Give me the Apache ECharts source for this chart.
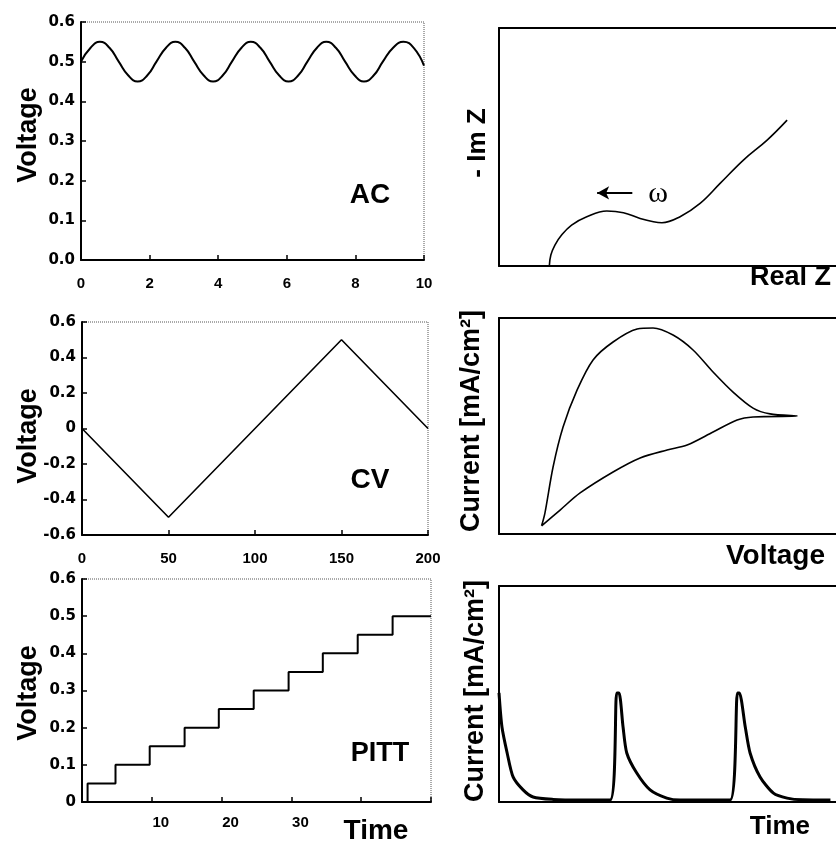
<!DOCTYPE html>
<html>
<head>
<meta charset="utf-8">
<script src="https://cdn.jsdelivr.net/npm/echarts@6/dist/echarts.min.js"></script>
<style>
html,body{margin:0;padding:0;background:#fff;}
#c{width:836px;height:842px;}
</style>
</head>
<body>
<div id="c"></div>
<script>
// ---- AC panel (voltage vs time) ----
var acTime    = [0, 0.28, 0.55, 0.83, 1.1, 1.38, 1.65, 1.93, 2.2, 2.48, 2.75, 3.03, 3.3, 3.58, 3.85, 4.13, 4.4, 4.68, 4.95, 5.23, 5.5, 5.78, 6.05, 6.33, 6.6, 6.88, 7.15, 7.43, 7.7, 7.98, 8.25, 8.53, 8.8, 9.1, 9.4, 9.7, 10];
var acVoltage = [0.50, 0.535, 0.55, 0.535, 0.50, 0.465, 0.45, 0.465, 0.50, 0.535, 0.55, 0.535, 0.50, 0.465, 0.45, 0.465, 0.50, 0.535, 0.55, 0.535, 0.50, 0.465, 0.45, 0.465, 0.50, 0.535, 0.55, 0.535, 0.50, 0.465, 0.45, 0.465, 0.50, 0.535, 0.55, 0.535, 0.49];
var acXLabels = ['0', '2', '4', '6', '8', '10'];
var acYLabels = ['0.0', '0.1', '0.2', '0.3', '0.4', '0.5', '0.6'];

// ---- CV panel (voltage vs time) ----
var cvTime    = [0, 50, 150, 200];
var cvVoltage = [0, -0.5, 0.5, 0];
var cvXLabels = ['0', '50', '100', '150', '200'];
var cvYLabels = ['-0.6', '-0.4', '-0.2', '0', '0.2', '0.4', '0.6'];

// ---- PITT panel (voltage staircase vs time) ----
var pittTime    = [0, 0.8, 4.8, 9.7, 14.7, 19.6, 24.6, 29.6, 34.5, 39.5, 44.5, 50];
var pittVoltage = [0, 0.05, 0.10, 0.15, 0.20, 0.25, 0.30, 0.35, 0.40, 0.45, 0.50, 0.50];
var pittXLabels = ['', '10', '20', '30', '', ''];
var pittYLabels = ['0', '0.1', '0.2', '0.3', '0.4', '0.5', '0.6'];

// ---- Nyquist plot (arbitrary units) ----
var nyqReal = [13.6, 14.0, 15.1, 16.9, 19.6, 23.7, 29.1, 33.6, 38.1, 41.7, 44.0, 48.9, 54.3, 59.7, 66.0, 72.4, 77.8];
var nyqImag = [0.1, 4.6, 8.8, 13.0, 17.2, 20.7, 23.1, 22.4, 20.0, 18.6, 18.2, 20.7, 26.3, 34.7, 44.5, 52.9, 61.3];

// ---- Cyclic voltammogram (arbitrary units) ----
var cvcVoltage = [11.5, 12.4, 14.6, 17.3, 21.1, 25.4, 30.8, 37.3, 41.6, 47.0, 52.4, 57.8, 63.2, 68.6, 73.2, 80.5, 68.6, 64.3, 57.8, 50.8, 45.4, 38.1, 30.8, 21.9, 16.5, 11.5];
var cvcCurrent = [3.8, 9.7, 31.0, 49.5, 66.7, 80.6, 88.9, 94.9, 95.4, 92.1, 85.2, 75.0, 65.7, 58.3, 55.6, 54.6, 54.2, 52.8, 47.2, 41.2, 38.9, 35.2, 28.7, 19.0, 11.1, 3.8];

// ---- PITT current response (arbitrary units) ----
var pcTime    = [0, 0.8, 2.2, 3.8, 6.5, 9.2, 14.6, 22, 30, 31.8, 32.4, 33.5, 34.5, 37.2, 40.8, 45.3, 48.9, 55, 62.4, 64.4, 64.9, 66.5, 67.8, 70.5, 74.1, 77.8, 82, 89.5];
var pcCurrent = [50.5, 34.7, 22.7, 11.6, 5.6, 2.3, 1.2, 0.9, 0.9, 50.5, 50.5, 34.7, 22.7, 13.4, 5.6, 1.8, 0.9, 0.9, 0.9, 50.5, 50.5, 34.7, 22.7, 11.6, 4.1, 1.8, 1.0, 0.9];

// visible part of the right-hand panels (their right edge runs off the page)
var rightXMax = 91;

function zip(a, b) { return a.map(function (v, i) { return [v, b[i]]; }); }
function ext(a, b) { var o = {}; for (var k in a) o[k] = a[k]; for (var k2 in b) o[k2] = b[k2]; return o; }

var FONT = 'Liberation Sans, Arial, sans-serif';
var chart = echarts.init(document.getElementById('c'), null, {renderer: 'canvas'});

var leftGrid = {show: true, borderColor: '#555', borderWidth: 1, borderType: 'dotted', backgroundColor: 'transparent'};
var grids = [
  ext(leftGrid, {left: 81, top: 22, width: 343, height: 238}),
  ext(leftGrid, {left: 82, top: 322, width: 346, height: 213}),
  ext(leftGrid, {left: 82, top: 579, width: 349, height: 223}),
  {left: 499, top: 28, right: 0, height: 238},
  {left: 499, top: 318, right: 0, height: 216},
  {left: 499, top: 586, right: 0, height: 216}
];

var axLine = {show: true, onZero: false, lineStyle: {color: '#000', width: 2}};
var axTick = {show: true, inside: true, length: 5, lineStyle: {color: '#000', width: 1.5}};
var xLbl = {color: '#000', fontFamily: FONT, fontWeight: 'bold', fontSize: 15};
var yLbl = {color: '#000', fontFamily: 'DejaVu Sans, sans-serif', fontWeight: 'bold', fontSize: 15};

function leftX(gi, min, max, interval, labels, margin, extra) {
  var o = {type: 'value', gridIndex: gi, min: min, max: max, interval: interval,
    axisLine: axLine, axisTick: axTick, splitLine: {show: false},
    axisLabel: ext(xLbl, {margin: margin, formatter: function (v) { return labels[Math.round((v - min) / interval)]; }})};
  if (extra) o.axisLabel = ext(o.axisLabel, extra);
  return o;
}
function leftY(gi, min, max, interval, labels) {
  return {type: 'value', gridIndex: gi, min: min, max: max, interval: interval,
    axisLine: axLine, axisTick: axTick, splitLine: {show: false},
    axisLabel: ext(yLbl, {margin: 6, formatter: function (v) { return labels[Math.round((v - min) / interval)]; }})};
}
function frameAxis(gi, pos, max) {
  return {type: 'value', gridIndex: gi, position: pos, min: 0, max: max,
    axisLine: axLine, axisTick: {show: false}, axisLabel: {show: false}, splitLine: {show: false}};
}

var xAxes = [
  leftX(0, 0, 10, 2, acXLabels, 16),
  leftX(1, 0, 200, 50, cvXLabels, 16),
  leftX(2, 0, 50, 10, pittXLabels, 13, {padding: [0, 0, 0, 18]}),
  frameAxis(3, 'bottom', rightXMax), frameAxis(4, 'bottom', rightXMax), frameAxis(5, 'bottom', rightXMax),
  frameAxis(3, 'top', rightXMax), frameAxis(4, 'top', rightXMax), frameAxis(5, 'top', rightXMax)
];
var yAxes = [
  leftY(0, 0, 0.6, 0.1, acYLabels),
  leftY(1, -0.6, 0.6, 0.2, cvYLabels),
  leftY(2, 0, 0.6, 0.1, pittYLabels),
  frameAxis(3, 'left', 100), frameAxis(4, 'left', 100), frameAxis(5, 'left', 100)
];

function ln(w) { return {color: '#000', width: w}; }
var series = [
  {type: 'line', xAxisIndex: 0, yAxisIndex: 0, data: zip(acTime, acVoltage), smooth: true, showSymbol: false, lineStyle: ln(2), silent: true},
  {type: 'line', xAxisIndex: 1, yAxisIndex: 1, data: zip(cvTime, cvVoltage), showSymbol: false, lineStyle: ln(1.6), silent: true},
  {type: 'line', xAxisIndex: 2, yAxisIndex: 2, data: zip(pittTime, pittVoltage), step: 'end', showSymbol: false, lineStyle: ln(2), silent: true},
  {type: 'line', xAxisIndex: 3, yAxisIndex: 3, data: zip(nyqReal, nyqImag), smooth: 0.4, showSymbol: false, lineStyle: ln(1.6), silent: true,
    markLine: {silent: true, symbol: ['none', 'arrow'], symbolSize: [10, 12], label: {show: false},
      lineStyle: {color: '#000', width: 2.2, type: 'solid'},
      data: [[{coord: [36, 30.7]}, {coord: [26.5, 30.7]}]]}},
  {type: 'line', xAxisIndex: 4, yAxisIndex: 4, data: zip(cvcVoltage, cvcCurrent), smooth: 0.3, showSymbol: false, lineStyle: ln(1.6), silent: true},
  {type: 'line', xAxisIndex: 5, yAxisIndex: 5, data: zip(pcTime, pcCurrent), smooth: 0.25, showSymbol: false, lineStyle: ln(3), silent: true}
];

function txt(x, y, s, size, rot, align, fam) {
  return {type: 'text', x: x, y: y, rotation: rot || 0, silent: true, z: 100,
    style: {text: s, fill: '#000', font: 'bold ' + size + 'px ' + (fam || FONT), align: align || 'center', verticalAlign: 'middle'}};
}
var graphics = [
  txt(29, 135, 'Voltage', 27, Math.PI / 2),
  txt(29, 436, 'Voltage', 27, Math.PI / 2),
  txt(29, 693, 'Voltage', 27, Math.PI / 2),
  txt(370, 195, 'AC', 28),
  txt(370, 480, 'CV', 28),
  txt(380, 754, 'PITT', 27),
  txt(376, 831, 'Time', 28),
  txt(478, 143, '- Im Z', 26, Math.PI / 2),
  txt(472, 421, 'Current [mA/cm²]', 27, Math.PI / 2),
  txt(476, 691, 'Current [mA/cm²]', 27, Math.PI / 2),
  txt(831, 278, 'Real Z', 27, 0, 'right'),
  txt(825, 556, 'Voltage', 28, 0, 'right'),
  txt(810, 827, 'Time', 26, 0, 'right'),
  {type: 'text', x: 658, y: 194, silent: true, z: 100,
    style: {text: 'ω', fill: '#000', font: '30px Liberation Serif, Times New Roman, serif', align: 'center', verticalAlign: 'middle'}}
];

chart.setOption({
  animation: false,
  backgroundColor: '#fff',
  grid: grids,
  xAxis: xAxes,
  yAxis: yAxes,
  series: series,
  graphic: graphics
});
</script>
</body>
</html>
